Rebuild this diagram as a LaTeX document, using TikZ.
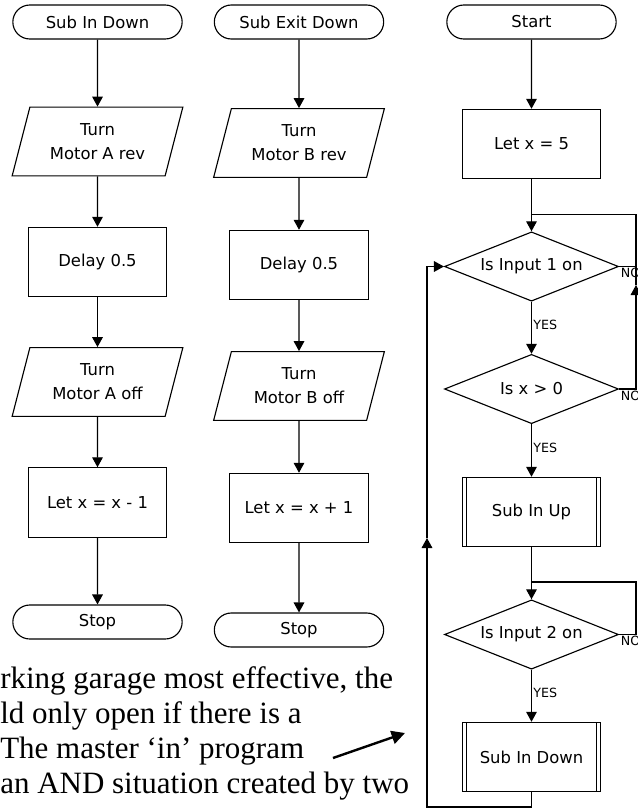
\documentclass[tikz,border=0pt]{standalone}
\usepackage{fontspec}
\setmainfont{Liberation Serif}
\newfontfamily\chartfont{DejaVu Sans}
\usetikzlibrary{shapes.geometric,shapes.misc,arrows.meta}

\begin{document}
\begin{tikzpicture}[
	x=0.75pt,
	y=0.75pt,
	base/.style={
		draw=black,
		line width=0.85pt,
		font=\chartfont\fontsize{12.3}{18}\selectfont,
		align=center,
		inner sep=1pt
	},
	term/.style={base, rounded rectangle, minimum width=129pt, minimum height=25.5pt},
	io/.style={
		base,
		trapezium,
		trapezium left angle=65.5,
		trapezium right angle=114.5,
		trapezium stretches body,
		minimum width=128pt,
		minimum height=51.5pt
	},
	proc/.style={base, rectangle, minimum width=104pt, minimum height=52pt},
	% predefined process, extra side bars
	subproc/.style={
		proc,
		path picture={
			\draw[line width=0.85pt] ([xshift=3.5pt]path picture bounding box.north west) -- ([xshift=3.5pt]path picture bounding box.south west);
			\draw[line width=0.85pt] ([xshift=-3.5pt]path picture bounding box.north east) -- ([xshift=-3.5pt]path picture bounding box.south east);
		}
	},
	decision/.style={base, diamond, aspect=2.5, minimum width=130.5pt, minimum height=52pt, inner sep=0pt},
	answer/.style={font=\chartfont\fontsize{9.5}{11}\selectfont, inner sep=1pt},
	link/.style={draw=black, line width=0.85pt},
	flow/.style={link, -{Triangle[width=8pt,length=7.5pt]}},
	pointer/.style={draw=black, line width=1.8pt, -{Triangle[width=10pt,length=10pt]}}
	]
	
	\useasboundingbox (0,0) rectangle (637,-811);
	
	% ================= SUB IN DOWN =================
	\node[term] (t1) at (97.5,-22) {Sub In Down};
	\node[io]   (p1) at (97.5,-141.5) {Turn\\Motor A rev};
	\node[proc] (b1) at (97.5,-262) {Delay 0.5};
	\node[io]   (p2) at (97.5,-382) {Turn\\Motor A off};
	\node[proc] (b2) at (97.5,-502.5) {Let x = x - 1};
	\node[term] (s1) at (97.5,-622) {Stop};
	
	\draw[flow] (t1) -- (p1);
	\draw[flow] (p1) -- (b1);
	\draw[flow] (b1) -- (p2);
	\draw[flow] (p2) -- (b2);
	\draw[flow] (b2) -- (s1);
	
	% ================= SUB EXIT DOWN =================
	\node[term] (t2) at (299,-22) {Sub Exit Down};
	\node[io]   (p3) at (299,-143) {Turn\\Motor B rev};
	\node[proc] (b3) at (299,-265) {Delay 0.5};
	\node[io]   (p4) at (299,-386) {Turn\\Motor B off};
	\node[proc] (b4) at (299,-508) {Let x = x + 1};
	\node[term] (s2) at (299,-630) {Stop};
	
	\draw[flow] (t2) -- (p3);
	\draw[flow] (p3) -- (b3);
	\draw[flow] (b3) -- (p4);
	\draw[flow] (p4) -- (b4);
	\draw[flow] (b4) -- (s2);
	
	% ================= MASTER IN =================
	\node[term]     (st)   at (531.5,-22) {Start};
	\node[proc]     (bx)   at (531.5,-144) {Let x = 5};
	\node[decision] (d1)   at (531.5,-266.5) {Is Input 1 on};
	\node[decision] (d2)   at (531.5,-389) {Is x > 0};
	\node[subproc]  (sub1) at (531.5,-512) {Sub In Up};
	\node[decision] (d3)   at (531.5,-634.5) {Is Input 2 on};
	\node[subproc]  (sub2) at (531.5,-757) {Sub In Down};
	
	\coordinate (j1)  at (531.5,-214.5);
	\coordinate (r1)  at (636,-214.5);
	\coordinate (up1) at (636,-285);
	\coordinate (j3)  at (531.5,-582);
	\coordinate (r3)  at (636,-582);
	\coordinate (lo)  at (427,-807);
	\coordinate (up2) at (427,-538);
	
	\draw[flow] (st) -- (bx);
	\draw[flow] (bx) -- (d1);
	\draw[flow] (d1) -- node[answer, right, pos=0.45] {YES} (d2);
	\draw[flow] (d2) -- node[answer, right, pos=0.45] {YES} (sub1);
	\draw[flow] (sub1) -- (d3);
	\draw[flow] (d3) -- node[answer, right, pos=0.45] {YES} (sub2);
	
	% NO loops on the right
	\draw[link] (d1.east) node[answer, anchor=north west] {NO} -- (d1.east -| r1);
	\draw[flow] (d2.east) node[answer, anchor=north west] {NO} -| (up1);
	\draw[link] (up1) -- (r1) -- (j1);
	\draw[link] (d3.east) node[answer, anchor=north west] {NO} -| (r3) -- (j3);
	
	% back to the top
	\draw[flow] (sub2.south) |- (lo) -- (up2);
	\draw[flow] (up2) |- (d1.west);
	
	% ================= TEXT =================
	\node[anchor=base west, inner sep=0pt, font=\fontsize{23.25}{26}\selectfont] (txt1) at (0,-688) {rking garage most effective, the};
	\node[anchor=base west, inner sep=0pt, font=\fontsize{23.25}{26}\selectfont] (txt2) at (0,-723) {ld only open if there is a};
	\node[anchor=base west, inner sep=0pt, font=\fontsize{23.25}{26}\selectfont] (txt3) at (0,-758) {The master `in' program};
	\node[anchor=base west, inner sep=0pt, font=\fontsize{23.25}{26}\selectfont] (txt4) at (0,-793) {an AND situation created by two};
	
	\coordinate (ptr1) at (333,-758);
	\coordinate (ptr2) at (405,-733);
	\draw[pointer] (ptr1) -- (ptr2);
	
\end{tikzpicture}
\end{document}
